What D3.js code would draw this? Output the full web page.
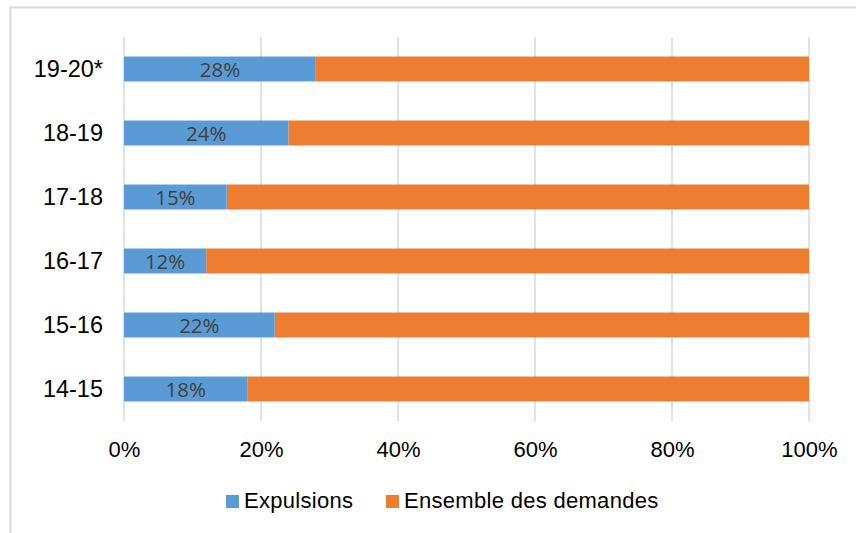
<!DOCTYPE html>
<html><head><meta charset="utf-8">
<script src="https://cdn.jsdelivr.net/npm/d3@7"></script>
<style>body{margin:0;background:#fff}svg{display:block}</style>
</head><body>
<svg id="c" width="856" height="533"></svg>
<script>
const categories = ["19-20*","18-19","17-18","16-17","15-16","14-15"];
const expulsions = [28,24,15,12,22,18];
const ensemble = [72,76,85,88,78,82];
const xTicks = [0,20,40,60,80,100];
const seriesNames = ["Expulsions","Ensemble des demandes"];
const colors = ["#5B9BD5","#ED7D31"];

const svg = d3.select("#c");
const font = "'Liberation Sans', Arial, sans-serif";
// outer border
svg.append("path").attr("d","M10.5,533 V7.5 H856").attr("fill","none").attr("stroke","#d9d9d9").attr("stroke-width",2);

const x = d3.scaleLinear().domain([0,100]).range([124,809]);
const y = d3.scaleBand().domain(categories).range([37,421]).paddingInner(0.61).paddingOuter(0.305);

const g = svg.append("g");
g.selectAll("line.grid").data(xTicks).join("line")
  .attr("x1",d=>x(d)).attr("x2",d=>x(d)).attr("y1",37).attr("y2",421)
  .attr("stroke","#d9d9d9").attr("stroke-width",1.5);

const rows = categories.map((c,i)=>({c, a:expulsions[i], b:ensemble[i]}));
g.selectAll("rect.b").data(rows).join("rect")
  .attr("x",d=>x(d.a)).attr("width",d=>x(d.a+d.b)-x(d.a))
  .attr("y",d=>y(d.c)).attr("height",y.bandwidth()).attr("fill",colors[1]);
g.selectAll("rect.a").data(rows).join("rect")
  .attr("x",x(0)).attr("width",d=>x(d.a)-x(0))
  .attr("y",d=>y(d.c)).attr("height",y.bandwidth()).attr("fill",colors[0]);
g.selectAll("text.lbl").data(rows).join("text")
  .attr("x",d=>(x(0)+x(d.a))/2).attr("y",d=>y(d.c)+y.bandwidth()/2+8)
  .attr("text-anchor","middle").attr("font-family","'Open Sans', 'Noto Sans', sans-serif").attr("font-size",20.5).attr("fill","#404040")
  .text(d=>d.a+"%");

const yAxis = d3.axisLeft(y).tickSize(0).tickPadding(21);
const ya = svg.append("g").attr("transform","translate(124,0)").call(yAxis);
ya.select(".domain").remove();
ya.selectAll("text").attr("font-family",font).attr("font-size",23.5).attr("fill","#000").attr("dy","0.34em");

const xAxis = d3.axisBottom(x).tickValues(xTicks).tickSize(0).tickPadding(20).tickFormat(d=>d+"%");
const xa = svg.append("g").attr("transform","translate(0,421)").call(xAxis);
xa.select(".domain").remove();
xa.selectAll("text").attr("font-family",font).attr("font-size",22).attr("fill","#000");

const legend = svg.append("g");
const lx = [226,386];
seriesNames.forEach((n,i)=>{
  legend.append("rect").attr("x",lx[i]).attr("y",495).attr("width",13).attr("height",13).attr("fill",colors[i]);
  legend.append("text").attr("x",lx[i]+18).attr("y",508).attr("font-family",font).attr("font-size",22).attr("letter-spacing",0.3).attr("fill","#000").text(n);
});
</script>
</body></html>
